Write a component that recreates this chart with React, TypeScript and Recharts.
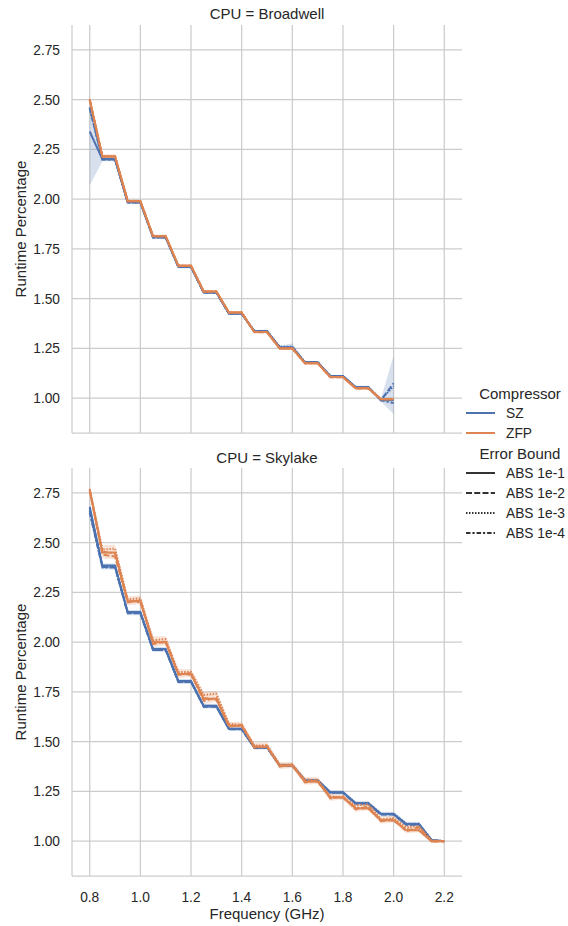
import { ComposedChart, Line, Area, XAxis, YAxis, CartesianGrid } from 'recharts';

const FONT = '"Liberation Sans", Arial, Helvetica, sans-serif';
const INK = '#262626';
const GRID = '#cccccc';

const COMPRESSORS = ['SZ', 'ZFP'];
const COMP_COLORS = ['#4c72b0', '#dd8452'];
const ERROR_BOUNDS = ['ABS 1e-1', 'ABS 1e-2', 'ABS 1e-3', 'ABS 1e-4'];
const BOUND_DASHES = [undefined, '6 2.25', '1.5 1.5', '4.5 1.9 2.25 1.9'];
const X_TICKS = [0.8, 1.0, 1.2, 1.4, 1.6, 1.8, 2.0, 2.2];
const Y_TICKS = [1.0, 1.25, 1.5, 1.75, 2.0, 2.25, 2.5, 2.75];

// Broadwell
const BDW_FREQ = [0.8, 0.85, 0.9, 0.95, 1.0, 1.05, 1.1, 1.15, 1.2, 1.25, 1.3, 1.35, 1.4, 1.45, 1.5, 1.55, 1.6, 1.65, 1.7, 1.75, 1.8, 1.85, 1.9, 1.95, 2.0];
const BDW_SZ_1 = [2.34, 2.2, 2.2, 1.985, 1.985, 1.808, 1.808, 1.66, 1.66, 1.532, 1.532, 1.425, 1.425, 1.336, 1.336, 1.254, 1.254, 1.18, 1.18, 1.112, 1.112, 1.055, 1.055, 0.99, 0.99];
const BDW_SZ_2 = [2.46, 2.2, 2.2, 1.983, 1.983, 1.808, 1.808, 1.66, 1.66, 1.53, 1.53, 1.425, 1.425, 1.337, 1.337, 1.256, 1.256, 1.18, 1.18, 1.11, 1.11, 1.054, 1.054, 0.99, 1.075];
const BDW_SZ_3 = [2.455, 2.202, 2.202, 1.984, 1.984, 1.81, 1.81, 1.661, 1.661, 1.531, 1.531, 1.426, 1.426, 1.338, 1.338, 1.258, 1.258, 1.181, 1.181, 1.111, 1.111, 1.056, 1.056, 0.992, 1.06];
const BDW_SZ_4 = [2.46, 2.199, 2.199, 1.984, 1.984, 1.807, 1.807, 1.659, 1.659, 1.531, 1.531, 1.424, 1.424, 1.336, 1.336, 1.255, 1.255, 1.179, 1.179, 1.11, 1.11, 1.055, 1.055, 0.99, 0.975];
const BDW_ZFP_1 = [2.5, 2.215, 2.215, 1.99, 1.99, 1.814, 1.814, 1.665, 1.665, 1.536, 1.536, 1.43, 1.43, 1.332, 1.332, 1.25, 1.25, 1.176, 1.176, 1.106, 1.106, 1.05, 1.05, 0.995, 0.995];
const BDW_ZFP_2 = [2.498, 2.213, 2.213, 1.991, 1.991, 1.815, 1.815, 1.664, 1.664, 1.535, 1.535, 1.431, 1.431, 1.331, 1.331, 1.249, 1.249, 1.175, 1.175, 1.105, 1.105, 1.049, 1.049, 0.995, 0.995];
const BDW_ZFP_3 = [2.502, 2.216, 2.216, 1.989, 1.989, 1.813, 1.813, 1.666, 1.666, 1.537, 1.537, 1.429, 1.429, 1.333, 1.333, 1.251, 1.251, 1.177, 1.177, 1.107, 1.107, 1.051, 1.051, 0.996, 0.996];
const BDW_ZFP_4 = [2.5, 2.214, 2.214, 1.99, 1.99, 1.814, 1.814, 1.665, 1.665, 1.536, 1.536, 1.43, 1.43, 1.332, 1.332, 1.25, 1.25, 1.176, 1.176, 1.106, 1.106, 1.05, 1.05, 0.994, 0.994];
const BDW_SZ_LO = [2.07, 2.19, 2.19, 1.977, 1.977, 1.8, 1.8, 1.652, 1.652, 1.525, 1.525, 1.418, 1.418, 1.33, 1.33, 1.247, 1.247, 1.173, 1.173, 1.104, 1.104, 1.048, 1.048, 0.982, 0.92];
const BDW_SZ_HI = [2.48, 2.21, 2.21, 1.992, 1.992, 1.815, 1.815, 1.667, 1.667, 1.539, 1.539, 1.432, 1.432, 1.344, 1.344, 1.265, 1.275, 1.187, 1.187, 1.117, 1.117, 1.062, 1.062, 0.998, 1.215];
const BDW_ZFP_LO = [2.485, 2.205, 2.205, 1.982, 1.982, 1.806, 1.806, 1.657, 1.657, 1.528, 1.528, 1.422, 1.422, 1.325, 1.325, 1.243, 1.243, 1.169, 1.169, 1.099, 1.099, 1.043, 1.043, 0.988, 0.988];
const BDW_ZFP_HI = [2.515, 2.225, 2.225, 1.998, 1.998, 1.822, 1.822, 1.673, 1.673, 1.544, 1.544, 1.438, 1.438, 1.339, 1.339, 1.257, 1.257, 1.183, 1.183, 1.113, 1.113, 1.057, 1.057, 1.002, 1.002];

// Skylake
const SKL_FREQ = [0.8, 0.85, 0.9, 0.95, 1.0, 1.05, 1.1, 1.15, 1.2, 1.25, 1.3, 1.35, 1.4, 1.45, 1.5, 1.55, 1.6, 1.65, 1.7, 1.75, 1.8, 1.85, 1.9, 1.95, 2.0, 2.05, 2.1, 2.15, 2.2];
const SKL_SZ_1 = [2.68, 2.385, 2.385, 2.152, 2.152, 1.965, 1.965, 1.805, 1.805, 1.68, 1.68, 1.565, 1.565, 1.472, 1.472, 1.382, 1.382, 1.306, 1.306, 1.246, 1.246, 1.19, 1.19, 1.136, 1.136, 1.086, 1.086, 1.005, 1.0];
const SKL_SZ_2 = [2.66, 2.378, 2.378, 2.145, 2.145, 1.96, 1.96, 1.8, 1.8, 1.676, 1.676, 1.562, 1.562, 1.47, 1.47, 1.38, 1.38, 1.304, 1.304, 1.244, 1.244, 1.188, 1.188, 1.134, 1.134, 1.082, 1.082, 1.004, 1.0];
const SKL_SZ_3 = [2.67, 2.38, 2.38, 2.148, 2.148, 1.962, 1.962, 1.802, 1.802, 1.678, 1.678, 1.564, 1.564, 1.471, 1.471, 1.381, 1.381, 1.305, 1.305, 1.245, 1.245, 1.192, 1.192, 1.138, 1.138, 1.088, 1.088, 1.006, 1.0];
const SKL_SZ_4 = [2.65, 2.375, 2.375, 2.146, 2.146, 1.961, 1.961, 1.801, 1.801, 1.677, 1.677, 1.563, 1.563, 1.47, 1.47, 1.381, 1.381, 1.305, 1.305, 1.243, 1.243, 1.189, 1.189, 1.135, 1.135, 1.084, 1.084, 1.004, 1.0];
const SKL_ZFP_1 = [2.765, 2.45, 2.45, 2.205, 2.205, 2.0, 2.0, 1.84, 1.84, 1.715, 1.715, 1.58, 1.58, 1.475, 1.475, 1.38, 1.38, 1.3, 1.3, 1.22, 1.22, 1.165, 1.165, 1.105, 1.105, 1.055, 1.055, 1.0, 1.0];
const SKL_ZFP_2 = [2.76, 2.44, 2.43, 2.2, 2.21, 1.99, 2.005, 1.835, 1.845, 1.705, 1.72, 1.575, 1.585, 1.47, 1.48, 1.375, 1.385, 1.295, 1.305, 1.215, 1.225, 1.16, 1.175, 1.1, 1.11, 1.05, 1.07, 0.998, 1.0];
const SKL_ZFP_3 = [2.77, 2.465, 2.47, 2.215, 2.22, 2.01, 2.015, 1.85, 1.85, 1.735, 1.74, 1.59, 1.585, 1.48, 1.482, 1.385, 1.385, 1.31, 1.308, 1.225, 1.22, 1.18, 1.185, 1.11, 1.115, 1.07, 1.075, 1.003, 1.0];
const SKL_ZFP_4 = [2.762, 2.455, 2.445, 2.21, 2.2, 2.002, 1.998, 1.842, 1.836, 1.72, 1.71, 1.582, 1.578, 1.477, 1.473, 1.382, 1.378, 1.302, 1.298, 1.222, 1.218, 1.168, 1.163, 1.107, 1.103, 1.06, 1.055, 1.0, 1.0];
const SKL_SZ_LO = [2.63, 2.365, 2.365, 2.135, 2.135, 1.95, 1.95, 1.79, 1.79, 1.666, 1.666, 1.553, 1.553, 1.462, 1.462, 1.372, 1.372, 1.296, 1.296, 1.234, 1.234, 1.178, 1.178, 1.124, 1.124, 1.074, 1.074, 0.998, 0.996];
const SKL_SZ_HI = [2.7, 2.395, 2.395, 2.162, 2.162, 1.975, 1.975, 1.815, 1.815, 1.69, 1.69, 1.574, 1.574, 1.48, 1.48, 1.39, 1.39, 1.314, 1.314, 1.256, 1.256, 1.202, 1.202, 1.148, 1.148, 1.098, 1.098, 1.012, 1.004];
const SKL_ZFP_LO = [2.745, 2.42, 2.415, 2.185, 2.19, 1.975, 1.985, 1.82, 1.825, 1.69, 1.7, 1.56, 1.565, 1.458, 1.463, 1.362, 1.368, 1.283, 1.288, 1.203, 1.208, 1.148, 1.155, 1.088, 1.095, 1.04, 1.045, 0.99, 0.994];
const SKL_ZFP_HI = [2.785, 2.485, 2.49, 2.23, 2.235, 2.03, 2.03, 1.865, 1.865, 1.75, 1.755, 1.6, 1.6, 1.495, 1.497, 1.398, 1.398, 1.322, 1.322, 1.238, 1.235, 1.195, 1.198, 1.125, 1.128, 1.085, 1.088, 1.012, 1.006];

const buildRows = (freq, sz, zfp, szLo, szHi, zfpLo, zfpHi) =>
  freq.map((f, i) => {
    const row: any = { f, szBand: [szLo[i], szHi[i]], zfpBand: [zfpLo[i], zfpHi[i]] };
    sz.forEach((s, k) => (row[`SZ_${k}`] = s[i]));
    zfp.forEach((s, k) => (row[`ZFP_${k}`] = s[i]));
    return row;
  });

const bdwRows = buildRows(BDW_FREQ, [BDW_SZ_1, BDW_SZ_2, BDW_SZ_3, BDW_SZ_4], [BDW_ZFP_1, BDW_ZFP_2, BDW_ZFP_3, BDW_ZFP_4], BDW_SZ_LO, BDW_SZ_HI, BDW_ZFP_LO, BDW_ZFP_HI);
const sklRows = buildRows(SKL_FREQ, [SKL_SZ_1, SKL_SZ_2, SKL_SZ_3, SKL_SZ_4], [SKL_ZFP_1, SKL_ZFP_2, SKL_ZFP_3, SKL_ZFP_4], SKL_SZ_LO, SKL_SZ_HI, SKL_ZFP_LO, SKL_ZFP_HI);

const YTitle = (props: any) => {
  const vb = props.viewBox || { y: 25, height: 408 };
  const cx = 20;
  const cy = vb.y + vb.height / 2;
  return (
    <text x={cx} y={cy} transform={`rotate(-90 ${cx} ${cy})`} textAnchor="middle" dominantBaseline="central" fontSize={15} fill={INK} fontFamily={FONT}>
      Runtime Percentage
    </text>
  );
};

const XTitle = (props: any) => {
  const vb = props.viewBox || { x: 72, width: 390, y: 436 };
  return (
    <text x={vb.x + vb.width / 2} y={vb.y + 37} textAnchor="middle" dominantBaseline="central" fontSize={15} fill={INK} fontFamily={FONT}>
      Frequency (GHz)
    </text>
  );
};

const XTick = (p: any) => (
  <text x={p.x} y={p.y + 16} dy="0.71em" textAnchor="middle" fontSize={13.75} fill={INK} fontFamily={FONT}>
    {Number(p.payload.value).toFixed(1)}
  </text>
);

// shared x axis: the upper facet keeps its ticks (for the grid) but shows no labels
const NoTick = () => <g />;

function Panel({ rows, width, height, margin, showX }: any) {
  const tick = { fontSize: 13.75, fill: INK, fontFamily: FONT };
  return (
    <ComposedChart width={width} height={height} data={rows} margin={margin}>
      <CartesianGrid syncWithTicks stroke={GRID} strokeWidth={1.25} />
      <XAxis
        dataKey="f"
        type="number"
        domain={[0.73, 2.27]}
        allowDataOverflow
        ticks={X_TICKS}
        tick={showX ? <XTick /> : <NoTick />}
        tickLine={false}
        tickSize={0}
        tickMargin={0}
        height={showX ? 50 : 1}
        axisLine={{ stroke: GRID, strokeWidth: 1.25 }}
        label={showX ? <XTitle /> : undefined}
      />
      <YAxis
        type="number"
        domain={[0.825, 2.875]}
        allowDataOverflow
        ticks={Y_TICKS}
        tickFormatter={(v) => v.toFixed(2)}
        tick={tick}
        tickLine={false}
        tickSize={0}
        tickMargin={12}
        width={72}
        axisLine={{ stroke: GRID, strokeWidth: 1.25 }}
        label={<YTitle />}
      />
      <Area dataKey="szBand" type="linear" stroke="none" fill={COMP_COLORS[0]} fillOpacity={0.22} isAnimationActive={false} activeDot={false} />
      <Area dataKey="zfpBand" type="linear" stroke="none" fill={COMP_COLORS[1]} fillOpacity={0.22} isAnimationActive={false} activeDot={false} />
      {COMPRESSORS.map((c, ci) =>
        ERROR_BOUNDS.map((b, bi) => (
          <Line
            key={`${c}_${bi}`}
            dataKey={`${c}_${bi}`}
            type="linear"
            stroke={COMP_COLORS[ci]}
            strokeWidth={2}
            strokeDasharray={BOUND_DASHES[bi]}
            dot={false}
            activeDot={false}
            isAnimationActive={false}
            name={`${c} ${b}`}
          />
        ))
      )}
    </ComposedChart>
  );
}

function Legend() {
  const rowY = { SZ: 413, ZFP: 433 };
  const boundY = [473, 493, 513, 533];
  return (
    <svg width={568} height={926} style={{ position: 'absolute', left: 0, top: 0, pointerEvents: 'none' }} fontFamily={FONT}>
      <text x={267} y={13} textAnchor="middle" dominantBaseline="central" fontSize={15} fill={INK}>CPU = Broadwell</text>
      <text x={267} y={457} textAnchor="middle" dominantBaseline="central" fontSize={15} fill={INK}>CPU = Skylake</text>
      <text x={520} y={393} textAnchor="middle" dominantBaseline="central" fontSize={15} fill={INK}>Compressor</text>
      {COMPRESSORS.map((c, ci) => (
        <g key={c}>
          <line x1={466} x2={495} y1={rowY[c]} y2={rowY[c]} stroke={COMP_COLORS[ci]} strokeWidth={2} />
          <text x={506} y={rowY[c]} dominantBaseline="central" fontSize={13.75} fill={INK}>{c}</text>
        </g>
      ))}
      <text x={520} y={453} textAnchor="middle" dominantBaseline="central" fontSize={15} fill={INK}>Error Bound</text>
      {ERROR_BOUNDS.map((b, bi) => (
        <g key={b}>
          <line x1={466} x2={495} y1={boundY[bi]} y2={boundY[bi]} stroke="#333333" strokeWidth={2} strokeDasharray={BOUND_DASHES[bi]} />
          <text x={506} y={boundY[bi]} dominantBaseline="central" fontSize={13.75} fill={INK}>{b}</text>
        </g>
      ))}
    </svg>
  );
}

export default function App() {
  return (
    <div style={{ position: 'absolute', left: 0, top: 0, width: 568, height: 926, background: '#fff', fontFamily: FONT }}>
      <div style={{ position: 'absolute', left: 0, top: 0 }}>
        <Panel rows={bdwRows} width={568} height={440} margin={{ top: 25, right: 106, bottom: 6, left: 0 }} showX={false} />
      </div>
      <div style={{ position: 'absolute', left: 0, top: 440 }}>
        <Panel rows={sklRows} width={568} height={486} margin={{ top: 28, right: 106, bottom: 0, left: 0 }} showX />
      </div>
      <Legend />
    </div>
  );
}
